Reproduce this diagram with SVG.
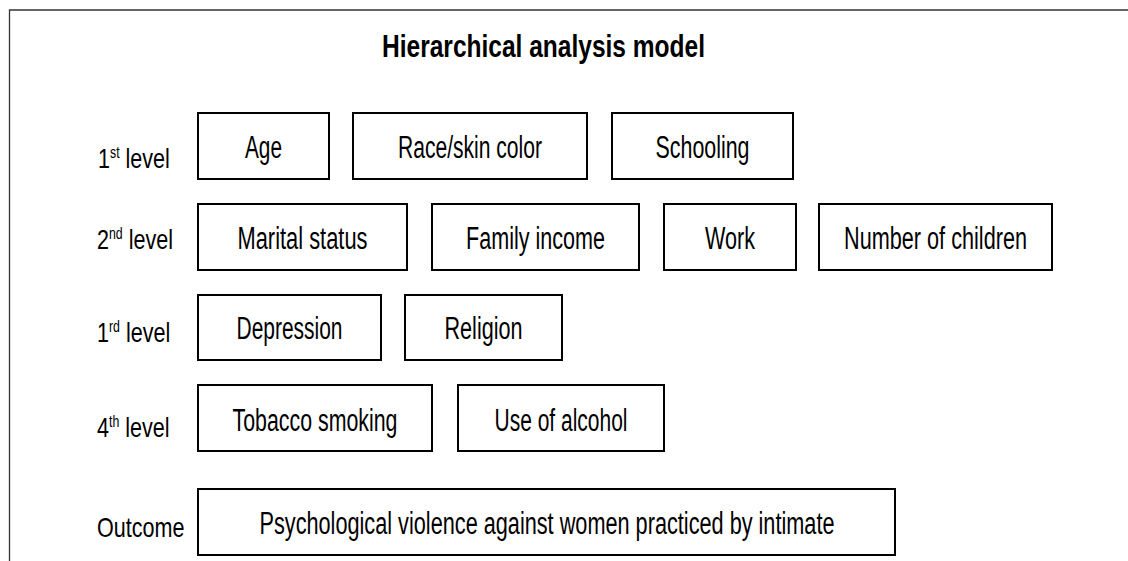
<svg xmlns="http://www.w3.org/2000/svg" width="1128" height="561" viewBox="0 0 1128 561">
<style>
.frame{fill:none;stroke:#333;stroke-width:1.3}
.box{fill:#fff;stroke:#000;stroke-width:2}
.t{font-family:"Liberation Sans",Arial,sans-serif;font-size:31px;fill:#000;text-anchor:middle}
.lbl{font-family:"Liberation Sans",Arial,sans-serif;font-size:28px;fill:#000}
.sup{font-size:16px}
.title{font-family:"Liberation Sans",Arial,sans-serif;font-size:32px;font-weight:bold;fill:#000;text-anchor:middle}
</style>
<rect width="1128" height="561" fill="#fff"/>
<path class="frame" d="M9.5 561 V10 H1128"/>
<text class="title" x="543.5" y="57" textLength="323" lengthAdjust="spacingAndGlyphs">Hierarchical analysis model</text>
<g id="labels">
<text class="lbl" transform="translate(98,168) scale(0.77,1)">1<tspan class="sup" dy="-10">st</tspan><tspan dy="10"> level</tspan></text>
<text class="lbl" transform="translate(97,249) scale(0.77,1)">2<tspan class="sup" dy="-10">nd</tspan><tspan dy="10"> level</tspan></text>
<text class="lbl" transform="translate(97,342) scale(0.77,1)">1<tspan class="sup" dy="-10">rd</tspan><tspan dy="10"> level</tspan></text>
<text class="lbl" transform="translate(97,437) scale(0.77,1)">4<tspan class="sup" dy="-10">th</tspan><tspan dy="10"> level</tspan></text>
<text class="lbl" transform="translate(97,537) scale(0.77,1)">Outcome</text>
</g>
<g id="age"><rect class="box" x="198" y="113" width="131" height="66"/><text class="t" x="263.5" y="158" textLength="37" lengthAdjust="spacingAndGlyphs">Age</text></g>
<g id="race"><rect class="box" x="353" y="113" width="234" height="66"/><text class="t" x="470" y="158" textLength="144" lengthAdjust="spacingAndGlyphs">Race/skin color</text></g>
<g id="schooling"><rect class="box" x="612" y="113" width="181" height="66"/><text class="t" x="702.5" y="158" textLength="94" lengthAdjust="spacingAndGlyphs">Schooling</text></g>
<g id="marital"><rect class="box" x="198" y="204" width="209" height="66"/><text class="t" x="302.5" y="249" textLength="130" lengthAdjust="spacingAndGlyphs">Marital status</text></g>
<g id="income"><rect class="box" x="432" y="204" width="207" height="66"/><text class="t" x="535.5" y="249" textLength="139" lengthAdjust="spacingAndGlyphs">Family income</text></g>
<g id="work"><rect class="box" x="664" y="204" width="132" height="66"/><text class="t" x="730" y="249" textLength="50" lengthAdjust="spacingAndGlyphs">Work</text></g>
<g id="children"><rect class="box" x="819" y="204" width="233" height="66"/><text class="t" x="935.5" y="249" textLength="183" lengthAdjust="spacingAndGlyphs">Number of children</text></g>
<g id="depression"><rect class="box" x="198" y="295" width="183" height="65"/><text class="t" x="289.5" y="339" textLength="106" lengthAdjust="spacingAndGlyphs">Depression</text></g>
<g id="religion"><rect class="box" x="405" y="295" width="157" height="65"/><text class="t" x="483.5" y="339" textLength="78" lengthAdjust="spacingAndGlyphs">Religion</text></g>
<g id="tobacco"><rect class="box" x="198" y="385" width="234" height="66"/><text class="t" x="315" y="431" textLength="165" lengthAdjust="spacingAndGlyphs">Tobacco smoking</text></g>
<g id="alcohol"><rect class="box" x="458" y="385" width="206" height="66"/><text class="t" x="561" y="431" textLength="133" lengthAdjust="spacingAndGlyphs">Use of alcohol</text></g>
<g id="outcome"><rect class="box" x="198" y="489" width="697" height="66"/><text class="t" x="547" y="534" textLength="575" lengthAdjust="spacingAndGlyphs">Psychological violence against women practiced by intimate</text></g>
<g id="connectors"></g>
</svg>
